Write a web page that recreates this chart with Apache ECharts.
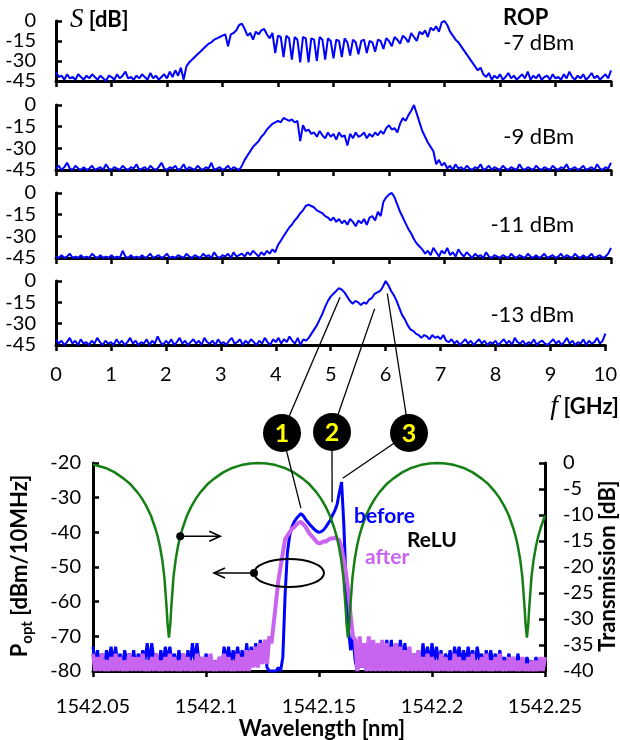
<!DOCTYPE html>
<html>
<head>
<meta charset="utf-8">
<script src="https://cdn.jsdelivr.net/npm/echarts@6/dist/echarts.min.js"></script>
<style>
html, body { margin: 0; padding: 0; background: #fff; }
#main { width: 620px; height: 740px; }
</style>
</head>
<body>
<div id="main"></div>
<script>
// RF spectra S(f), 0 .. 10 GHz every 0.05 GHz, one trace per received optical power
const fStep = 0.05;
const rop7 = [
  -38,-42,-41,-44,-40,-43,-42,-44,-40,-42,
  -44,-41,-43,-40,-42,-44,-41,-43,-45,-41,
  -42,-44,-40,-43,-41,-38,-43,-42,-44,-41,
  -43,-40,-42,-44,-39,-43,-41,-44,-42,-40,
  -43,-38,-42,-37,-41,-35,-44,-34,-31,-29,
  -27,-25,-23,-21,-19,-17,-16,-14,-13,-12,
  -11,-10,-19,-10,-9,-7,-3,-2,-6,-11,
  -9,-14,-8,-10,-7,-6,-10,-13,-9,-24,
  -11,-12,-27,-11,-13,-29,-12,-14,-31,-12,
  -13,-31,-13,-14,-30,-12,-14,-29,-13,-15,
  -28,-14,-15,-27,-13,-16,-26,-14,-16,-25,
  -15,-14,-24,-15,-16,-23,-14,-15,-21,-13,
  -15,-19,-12,-14,-17,-11,-13,-16,-9,-12,
  -15,-8,-10,-7,-12,-5,-7,-4,-8,-1,
  0,-3,-8,-11,-14,-16,-19,-22,-25,-28,
  -31,-34,-37,-35,-40,-42,-39,-44,-41,-43,
  -40,-44,-42,-39,-43,-41,-44,-42,-40,-43,
  -38,-44,-41,-43,-40,-44,-42,-41,-44,-40,
  -43,-42,-44,-40,-43,-38,-42,-44,-41,-43,
  -40,-44,-42,-39,-43,-41,-44,-42,-40,-43,
  -37
];
const rop9 = [
  -44,-42,-45,-43,-40,-44,-45,-42,-44,-45,
  -43,-45,-44,-42,-45,-44,-43,-45,-41,-44,
  -45,-43,-44,-45,-42,-44,-45,-43,-44,-41,
  -45,-44,-43,-45,-42,-44,-45,-43,-40,-44,
  -45,-43,-44,-42,-45,-44,-41,-45,-43,-44,
  -45,-42,-44,-45,-43,-44,-40,-45,-44,-43,
  -45,-44,-42,-45,-43,-44,-45,-42,-38,-35,
  -32,-29,-27,-25,-22,-20,-17,-15,-13,-12,
  -11,-12,-9,-10,-11,-10,-12,-11,-25,-14,
  -18,-17,-20,-19,-22,-18,-21,-23,-19,-22,
  -20,-24,-19,-22,-21,-28,-20,-23,-19,-22,
  -21,-19,-23,-20,-22,-19,-21,-18,-20,-16,
  -14,-17,-16,-19,-13,-9,-11,-7,-4,0,
  -6,-12,-18,-22,-26,-29,-32,-41,-38,-42,
  -40,-44,-42,-45,-41,-44,-43,-45,-42,-44,
  -45,-43,-44,-41,-45,-44,-42,-45,-43,-44,
  -45,-42,-44,-45,-43,-44,-45,-41,-44,-45,
  -43,-44,-45,-42,-44,-45,-43,-44,-45,-42,
  -44,-45,-43,-44,-41,-45,-44,-43,-45,-44,
  -42,-45,-44,-43,-45,-41,-44,-45,-43,-44,
  -40
];
const rop11 = [
  -44,-45,-43,-45,-44,-42,-45,-44,-45,-43,
  -45,-44,-45,-42,-44,-45,-43,-45,-44,-45,
  -43,-45,-44,-45,-40,-44,-45,-43,-45,-44,
  -45,-43,-45,-44,-42,-45,-44,-43,-45,-44,
  -42,-45,-44,-45,-43,-44,-45,-42,-44,-45,
  -43,-44,-45,-42,-44,-43,-45,-41,-44,-45,
  -43,-44,-42,-45,-41,-44,-43,-42,-44,-41,
  -43,-40,-42,-44,-41,-43,-40,-42,-39,-41,
  -36,-33,-30,-27,-24,-22,-19,-17,-14,-12,
  -9,-8,-9,-10,-12,-13,-14,-16,-17,-19,
  -17,-20,-18,-21,-19,-22,-18,-20,-23,-19,
  -21,-18,-22,-17,-16,-19,-13,-16,-6,-3,
  -1,0,-3,-8,-13,-17,-21,-25,-28,-32,
  -35,-37,-39,-42,-40,-43,-38,-41,-44,-40,
  -42,-38,-43,-41,-44,-39,-42,-44,-41,-43,
  -45,-42,-44,-43,-45,-41,-44,-45,-43,-44,
  -45,-43,-44,-45,-42,-44,-45,-43,-44,-45,
  -42,-44,-45,-43,-45,-44,-42,-45,-44,-43,
  -45,-44,-42,-45,-43,-44,-45,-42,-44,-45,
  -43,-45,-44,-42,-45,-44,-43,-45,-44,-42,
  -38
];
const rop13 = [
  -41,-44,-42,-45,-43,-40,-44,-42,-45,-41,
  -44,-43,-45,-42,-44,-40,-43,-45,-42,-44,
  -43,-45,-41,-44,-42,-45,-43,-40,-44,-42,
  -45,-43,-44,-41,-45,-42,-44,-39,-43,-45,
  -42,-44,-41,-45,-43,-40,-44,-42,-45,-43,
  -41,-44,-42,-45,-40,-43,-44,-42,-45,-41,
  -44,-43,-45,-42,-40,-44,-43,-41,-45,-42,
  -44,-41,-43,-45,-42,-44,-40,-43,-45,-41,
  -43,-40,-44,-41,-43,-39,-42,-44,-40,-45,
  -41,-42,-40,-37,-34,-31,-27,-23,-18,-14,
  -11,-9,-7,-5,-6,-8,-11,-14,-16,-14,
  -15,-17,-15,-16,-13,-12,-9,-8,-7,-4,
  0,-3,-7,-10,-14,-19,-24,-27,-31,-34,
  -35,-37,-38,-40,-38,-39,-41,-38,-40,-39,
  -41,-38,-42,-43,-41,-44,-42,-45,-43,-41,
  -44,-42,-45,-43,-41,-44,-42,-45,-43,-44,
  -42,-45,-43,-41,-44,-42,-45,-40,-43,-44,
  -42,-45,-43,-44,-41,-45,-43,-42,-44,-45,
  -43,-41,-44,-42,-45,-43,-40,-44,-42,-45,
  -43,-44,-41,-45,-42,-44,-43,-40,-44,-42,
  -37
];
const ropTraces = [rop7, rop9, rop11, rop13];
const ropLabels = ['-7 dBm', '-9 dBm', '-11 dBm', '-13 dBm'];

// optical spectrum, 1542.050 .. 1542.250 nm every 0.001 nm (dBm/10MHz)
const wlStart = 1542.05;
const wlStep = 0.001;
const before = [
  -73,-78,-74,-79,-75,-78,-74,-77,-73,-78,
  -73,-78,-75,-79,-74,-77,-75,-78,-74,-79,
  -75,-78,-74,-77,-72,-78,-72,-77,-75,-79,
  -74,-78,-73,-77,-73,-78,-75,-79,-74,-77,
  -75,-79,-74,-78,-72,-77,-72,-78,-76,-79,
  -75,-78,-76,-79,-77,-78,-76,-79,-73,-77,
  -73,-78,-74,-77,-73,-78,-74,-79,-72,-78,
  -73,-77,-72,-78,-71,-77,-73,-79,-80,-80,
  -80,-80,-79,-80,-76,-58,-46,-41,-38.5,-37,
  -36,-35.3,-34.6,-35.2,-36.2,-37,-37.8,-38.5,-39.2,-39.7,
  -40,-39.8,-39.3,-38.5,-37.5,-36.5,-35,-33.8,-32,-28.5,
  -25.5,-38,-55,-68,-74,-70,
  -77,-80,-76,-79,-77,-80,-75,-79,-76,-80,
  -76,-79,-74,-78,-71,-77,-71,-78,-72,-78,
  -71,-77,-72,-78,-74,-79,-75,-78,-74,-79,
  -72,-77,-73,-78,-72,-77,-73,-78,-74,-79,
  -75,-78,-74,-79,-73,-77,-73,-78,-74,-78,
  -73,-77,-74,-78,-73,-77,-75,-79,-74,-78,
  -74,-78,-75,-79,-74,-78,-76,-79,-75,-78,
  -76,-79,-75,-78,-77,-79,-76,-78,-77,-79,
  -76,-78,-77,-79,-77
];
const after = [
  -75,-80,-76,-80,-75,-80,-77,-80,-76,-80,
  -75,-80,-76,-80,-77,-80,-75,-80,-76,-80,
  -76,-80,-75,-80,-77,-80,-76,-80,-75,-80,
  -77,-80,-76,-80,-75,-80,-76,-80,-77,-80,
  -75,-80,-76,-80,-77,-80,-75,-80,-76,-80,
  -76,-80,-75,-80,-77,-80,-76,-80,-75,-80,
  -76,-80,-77,-80,-75,-80,-76,-80,-74,-80,
  -74,-79,-73,-79,-72,-78,-71,-78,-70,-72,
  -66,-60,-54,-50,-46,-42,-41,-40,-39,-38.5,
  -37.8,-37.2,-37,-37.6,-38.3,-39.5,-40.5,-41.2,-42,-42.8,
  -43.2,-43,-42.6,-42.7,-42.2,-41.8,-41.8,-41.5,-42,-42.2,
  -44.5,-48,-52,-57,-64,-70,
  -71,-80,-70,-79,-72,-80,-70,-80,-71,-80,
  -72,-80,-71,-80,-72,-80,-73,-80,-72,-80,
  -73,-80,-74,-80,-73,-80,-75,-80,-74,-80,
  -76,-80,-75,-80,-76,-80,-77,-80,-75,-80,
  -76,-80,-77,-80,-75,-80,-76,-80,-77,-80,
  -76,-80,-75,-80,-77,-80,-76,-80,-75,-80,
  -77,-80,-76,-80,-75,-80,-77,-80,-76,-80,
  -76,-80,-77,-80,-76,-80,-78,-80,-77,-80,
  -77,-80,-76,-80,-76
];
// filter transmission [nm, dB]
const transmission = [
  [1542.050,-0.3],[1542.0556,-0.95],[1542.0596,-1.8],[1542.0636,-3.0],[1542.0666,-4.1],
  [1542.0696,-5.6],[1542.0716,-6.8],[1542.0736,-8.3],[1542.0756,-10.1],[1542.0776,-12.6],
  [1542.0786,-14.1],[1542.0796,-16],[1542.0806,-18.5],[1542.0816,-22],[1542.0826,-28],
  [1542.0830,-31],[1542.0836,-33.6],[1542.0842,-31],[1542.0846,-28],[1542.0856,-22],
  [1542.0866,-18.5],[1542.0876,-16],[1542.0886,-14.1],[1542.0896,-12.6],[1542.0916,-10.1],
  [1542.0936,-8.3],[1542.0956,-6.8],[1542.0976,-5.6],[1542.1006,-4.1],[1542.1036,-3.0],
  [1542.1076,-1.8],[1542.1116,-0.95],[1542.1156,-0.4],[1542.1196,-0.1],[1542.1232,0],
  [1542.1268,-0.1],[1542.1308,-0.4],[1542.1348,-0.95],[1542.1388,-1.8],[1542.1428,-3.0],
  [1542.1458,-4.1],[1542.1488,-5.6],[1542.1508,-6.8],[1542.1528,-8.3],[1542.1548,-10.1],
  [1542.1568,-12.6],[1542.1578,-14.1],[1542.1588,-16],[1542.1598,-18.5],[1542.1608,-22],
  [1542.1618,-28],[1542.1622,-31],[1542.1628,-33.6],[1542.1634,-31],[1542.1638,-28],
  [1542.1648,-22],[1542.1658,-18.5],[1542.1668,-16],[1542.1678,-14.1],[1542.1688,-12.6],
  [1542.1708,-10.1],[1542.1728,-8.3],[1542.1748,-6.8],[1542.1768,-5.6],[1542.1798,-4.1],
  [1542.1828,-3.0],[1542.1868,-1.8],[1542.1908,-0.95],[1542.1948,-0.4],[1542.1988,-0.1],
  [1542.2024,0],[1542.2060,-0.1],[1542.2100,-0.4],[1542.2140,-0.95],[1542.2180,-1.8],
  [1542.2220,-3.0],[1542.2250,-4.1],[1542.2280,-5.6],[1542.2300,-6.8],[1542.2320,-8.3],
  [1542.2340,-10.1],[1542.2360,-12.6],[1542.2370,-14.1],[1542.2380,-16],[1542.2390,-18.5],
  [1542.2400,-22],[1542.2410,-28],[1542.2414,-31],[1542.2420,-33.6],[1542.2426,-31],
  [1542.2430,-28],[1542.2440,-22],[1542.2450,-18.5],[1542.2460,-16],[1542.2470,-14.1],
  [1542.2480,-12.6],[1542.2500,-10.1]
];

// numbered callouts: point on the -13 dBm trace [GHz, dB], point on the optical spectrum [nm, dBm]
const calloutTop = [[5.17, -11.4], [5.8, -19.4], [6.03, -8.8]];
const calloutBottom = [[1542.142, -33], [1542.1558, -31.3], [1542.1605, -24.4]];
const calloutNames = ['1', '2', '3'];

const font = 'Lato, "Open Sans", sans-serif';
const blue = '#0000ff';
const violet = '#c864f0';
const green = '#157f15';

const panelBox = [[21, 60], [105, 65], [193, 65], [281, 64]]; // top, height

const grids = [], xAxes = [], yAxes = [], series = [];
panelBox.forEach(function (b, k) {
  grids.push({ left: 56, right: 9, top: b[0], height: b[1] });
  xAxes.push({
    type: 'value', gridIndex: k, min: 0, max: 10, interval: 1,
    axisLine: { show: true, onZero: false, lineStyle: { color: '#000', width: 3 } },
    axisTick: { show: true, inside: false, length: 6, lineStyle: { color: '#000', width: 2.5 } },
    axisLabel: { show: k === 3, color: '#000', fontSize: 20, fontFamily: font, margin: 20 },
    splitLine: { show: false }
  });
  yAxes.push({
    type: 'value', gridIndex: k, min: -45, max: 0, interval: 15,
    axisLine: { show: true, onZero: false, lineStyle: { color: '#000', width: 3 } },
    axisTick: { show: true, inside: true, length: 6, lineStyle: { color: '#000', width: 2.5 } },
    axisLabel: { color: '#000', fontSize: 20, fontFamily: font, margin: 20 },
    splitLine: { show: false }
  });
  series.push({
    type: 'line', xAxisIndex: k, yAxisIndex: k, showSymbol: false, clip: false,
    lineStyle: { color: blue, width: 2 },
    data: ropTraces[k].map(function (v, i) { return [+(i * fStep).toFixed(2), v]; })
  });
});

// optical spectrum panel
grids.push({ left: 93, right: 75, top: 463, height: 208 });
xAxes.push({
  type: 'value', gridIndex: 4, min: 1542.05, max: 1542.25, interval: 0.05,
  axisLine: { show: true, onZero: false, lineStyle: { color: '#000', width: 3 } },
  axisTick: { show: true, inside: false, length: 6, lineStyle: { color: '#000', width: 2.5 } },
  axisLabel: { color: '#000', fontSize: 20, fontFamily: font, margin: 26,
    formatter: function (v) { return String(Number(v.toFixed(2))); } },
  splitLine: { show: false }
});
yAxes.push({
  type: 'value', gridIndex: 4, min: -80, max: -20, interval: 10,
  axisLine: { show: true, onZero: false, lineStyle: { color: '#000', width: 3 } },
  axisTick: { show: true, inside: true, length: 6, lineStyle: { color: '#000', width: 2.5 } },
  axisLabel: { color: '#000', fontSize: 20, fontFamily: font, margin: 12 },
  splitLine: { show: false }
});
yAxes.push({
  type: 'value', gridIndex: 4, position: 'right', min: -40, max: 0, interval: 5,
  axisLine: { show: true, onZero: false, lineStyle: { color: '#000', width: 3 } },
  axisTick: { show: true, inside: true, length: 6, lineStyle: { color: '#000', width: 2.5 } },
  axisLabel: { color: '#000', fontSize: 20, fontFamily: font, margin: 18 },
  splitLine: { show: false }
});
function onGrid(arr) {
  return arr.map(function (v, i) { return [+(wlStart + i * wlStep).toFixed(4), v]; });
}
series.push({
  name: 'before', type: 'line', xAxisIndex: 4, yAxisIndex: 4, showSymbol: false, clip: false,
  lineStyle: { color: blue, width: 3 }, data: onGrid(before)
});
series.push({
  name: 'after', type: 'line', xAxisIndex: 4, yAxisIndex: 4, showSymbol: false, clip: false,
  lineStyle: { color: violet, width: 4 }, data: onGrid(after)
});
series.push({
  name: 'transmission', type: 'line', xAxisIndex: 4, yAxisIndex: 5, showSymbol: false, clip: false,
  lineStyle: { color: green, width: 2.5 }, data: transmission
});

const chart = echarts.init(document.getElementById('main'));
chart.setOption({
  animation: false,
  backgroundColor: '#fff',
  grid: grids, xAxis: xAxes, yAxis: yAxes, series: series
});

// annotations
const g = [];
function txt(x, y, text, extra, rot) {
  const el = { type: 'text', x: x, y: y, z: 20,
    style: Object.assign({ text: text, fill: '#000', fontSize: 21, fontFamily: font,
      align: 'left', verticalAlign: 'middle' }, extra) };
  if (rot) el.rotation = rot;
  g.push(el);
}
txt(70, 20, '{i|S}{b| [dB]}', { rich: {
  i: { fontFamily: '"Liberation Serif", serif', fontStyle: 'italic', fontSize: 27, verticalAlign: 'middle' },
  b: { fontFamily: font, fontWeight: 'bold', fontSize: 22, verticalAlign: 'middle' } } });
txt(503, 18, 'ROP', { fontWeight: 'bold', fontSize: 22 });
const ropY = [43, 137, 225, 315];
ropLabels.forEach(function (t, k) { txt(574, ropY[k], t, { align: 'right', fontSize: 22 }); });
txt(619, 407, '{i|f}{b| [GHz]}', { align: 'right', rich: {
  i: { fontFamily: '"Liberation Serif", serif', fontStyle: 'italic', fontSize: 28, verticalAlign: 'middle' },
  b: { fontFamily: font, fontWeight: 'bold', fontSize: 22, verticalAlign: 'middle' } } });
txt(322, 729, 'Wavelength [nm]', { align: 'center', fontWeight: 'bold', fontSize: 22 });
txt(20, 566, '{b|P}{s|opt}{b| [dBm/10MHz]}', { align: 'center', rich: {
  b: { fontFamily: font, fontWeight: 'bold', fontSize: 22, lineHeight: 30, verticalAlign: 'middle' },
  s: { fontFamily: font, fontWeight: 'bold', fontSize: 15, lineHeight: 30, verticalAlign: 'bottom' } } }, Math.PI / 2);
txt(608, 566, 'Transmission [dB]', { align: 'center', fontWeight: 'bold', fontSize: 22 }, Math.PI / 2);
txt(354, 516, 'before', { fontWeight: 'bold', fill: blue });
txt(407, 540, 'ReLU', { fontWeight: 'bold' });
txt(365, 557, 'after', { fontWeight: 'bold', fill: violet });

const circ = [[282, 433], [332, 432], [409, 433]];
calloutNames.forEach(function (n, k) {
  const top = chart.convertToPixel({ xAxisIndex: 3, yAxisIndex: 3 }, calloutTop[k]);
  const bot = chart.convertToPixel({ xAxisIndex: 4, yAxisIndex: 4 }, calloutBottom[k]);
  [top, bot].forEach(function (p) {
    g.push({ type: 'line', z: 18, shape: { x1: circ[k][0], y1: circ[k][1], x2: p[0], y2: p[1] },
      style: { stroke: '#000', lineWidth: 1.3 } });
  });
  g.push({ type: 'circle', z: 19, shape: { cx: circ[k][0], cy: circ[k][1], r: 19 }, style: { fill: '#000' } });
  txt(circ[k][0], circ[k][1] + 1, n, { align: 'center', fontWeight: 'bold', fontSize: 25, fill: '#ffff00' });
});

// arrow from the green curve to the right axis
const dot1 = chart.convertToPixel({ xAxisIndex: 4, yAxisIndex: 5 }, [1542.0886, -14.1]);
g.push({ type: 'circle', z: 19, shape: { cx: dot1[0], cy: dot1[1], r: 4 }, style: { fill: '#000' } });
g.push({ type: 'line', z: 19, shape: { x1: dot1[0], y1: dot1[1], x2: dot1[0] + 39, y2: dot1[1] },
  style: { stroke: '#000', lineWidth: 1.6 } });
g.push({ type: 'polyline', z: 19, shape: { points: [[dot1[0] + 29, dot1[1] - 5], [dot1[0] + 40, dot1[1]], [dot1[0] + 29, dot1[1] + 5]] },
  style: { stroke: '#000', lineWidth: 1.6, fill: null } });
// ellipse around the spectra with arrow to the left axis
g.push({ type: 'ellipse', z: 17, shape: { cx: 289, cy: 573, rx: 35, ry: 14 },
  style: { stroke: '#000', lineWidth: 2, fill: null } });
g.push({ type: 'circle', z: 19, shape: { cx: 254, cy: 573, r: 4 }, style: { fill: '#000' } });
g.push({ type: 'line', z: 19, shape: { x1: 254, y1: 573, x2: 215, y2: 573 }, style: { stroke: '#000', lineWidth: 1.6 } });
g.push({ type: 'polyline', z: 19, shape: { points: [[225, 568], [214, 573], [225, 578]] },
  style: { stroke: '#000', lineWidth: 1.6, fill: null } });

chart.setOption({ graphic: g });
</script>
</body>
</html>
